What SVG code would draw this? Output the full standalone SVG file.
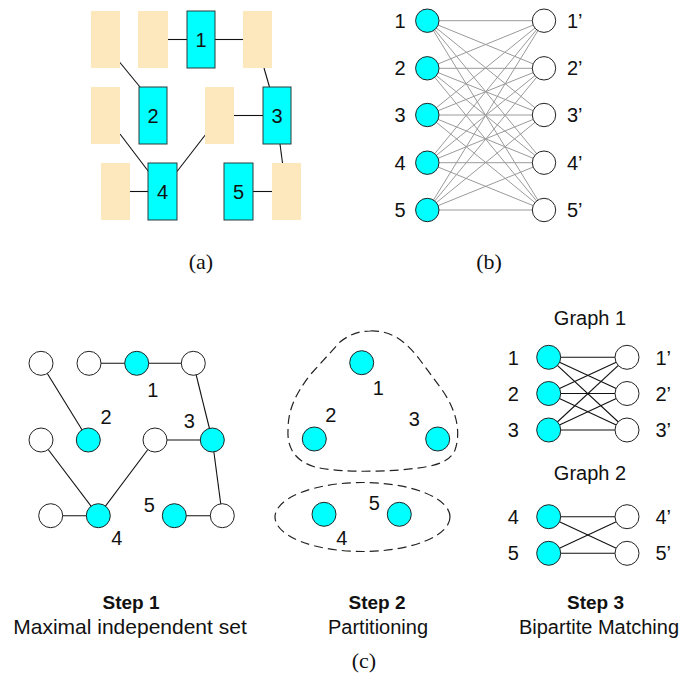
<svg xmlns="http://www.w3.org/2000/svg" width="694" height="687" viewBox="0 0 694 687">
<style>
.bg{fill:#FDE8BE}
.cy{fill:#00FFFF;stroke:#2a3a3a;stroke-width:1}
.cc{fill:#00FFFF;stroke:#222;stroke-width:1}
.wc{fill:#FFFFFF;stroke:#222;stroke-width:1}
.ed{stroke:#111;stroke-width:1.1;fill:none}
.ge{stroke:#9a9a9a;stroke-width:1;fill:none}
.lb{font-family:"Liberation Sans",Arial,sans-serif;font-size:20px;fill:#111}
.lg{font-family:"Liberation Sans",Arial,sans-serif;font-size:20px;fill:#111}
.st{font-family:"Liberation Sans",Arial,sans-serif;font-size:19px;font-weight:bold;fill:#111;text-anchor:middle}
.cap{font-family:"Liberation Sans",Arial,sans-serif;font-size:20px;fill:#111;text-anchor:middle}
.sub{font-family:"Liberation Serif","Times New Roman",serif;font-size:22px;fill:#111;text-anchor:middle}
.dash{fill:none;stroke:#222;stroke-width:1.2;stroke-dasharray:9,5}
.m{text-anchor:middle}
</style>

<!-- (a) connectors -->
<g id="a-connectors" class="ed">
<line x1="168" y1="39.5" x2="187" y2="39.5"/>
<line x1="215" y1="39.5" x2="243" y2="39.5"/>
<line x1="119.5" y1="62" x2="140" y2="87"/>
<line x1="264" y1="68" x2="269.5" y2="87"/>
<line x1="234" y1="115.5" x2="263" y2="115.5"/>
<line x1="280" y1="144" x2="282.5" y2="163"/>
<line x1="120" y1="134" x2="148.5" y2="171.5"/>
<line x1="206" y1="134" x2="177" y2="171.5"/>
<line x1="130" y1="191.5" x2="148" y2="191.5"/>
<line x1="253" y1="191.5" x2="272" y2="191.5"/>
</g>
<!-- (a) nodes -->
<g id="a-r1"><rect class="bg" x="91" y="11" width="29" height="57"/></g>
<g id="a-r2"><rect class="bg" x="138" y="11" width="30" height="57"/></g>
<g id="a-n1"><rect class="cy" x="187" y="11" width="28" height="57"/><text class="lb m" x="201" y="46.5">1</text></g>
<g id="a-r3"><rect class="bg" x="243" y="11" width="29" height="57"/></g>
<g id="a-r4"><rect class="bg" x="91" y="87" width="29" height="57"/></g>
<g id="a-n2"><rect class="cy" x="139" y="87" width="28" height="57"/><text class="lb m" x="153" y="122.5">2</text></g>
<g id="a-r5"><rect class="bg" x="205" y="87" width="29" height="57"/></g>
<g id="a-n3"><rect class="cy" x="263" y="87" width="28" height="57"/><text class="lb m" x="277" y="122.5">3</text></g>
<g id="a-r6"><rect class="bg" x="101" y="163" width="29" height="57"/></g>
<g id="a-n4"><rect class="cy" x="148" y="163" width="29" height="57"/><text class="lb m" x="162.5" y="198.5">4</text></g>
<g id="a-n5"><rect class="cy" x="224" y="163" width="29" height="57"/><text class="lb m" x="238.5" y="198.5">5</text></g>
<g id="a-r7"><rect class="bg" x="272" y="163" width="29" height="57"/></g>
<text class="sub" x="201" y="269">(a)</text>

<!-- (b) connectors: complete bipartite -->
<g id="b-connectors" class="ge">
<line x1="427.3" y1="20.7" x2="544" y2="20.7"/><line x1="427.3" y1="20.7" x2="544" y2="68.3"/><line x1="427.3" y1="20.7" x2="544" y2="115"/><line x1="427.3" y1="20.7" x2="544" y2="162.7"/><line x1="427.3" y1="20.7" x2="544" y2="210"/>
<line x1="427.3" y1="68.3" x2="544" y2="20.7"/><line x1="427.3" y1="68.3" x2="544" y2="68.3"/><line x1="427.3" y1="68.3" x2="544" y2="115"/><line x1="427.3" y1="68.3" x2="544" y2="162.7"/><line x1="427.3" y1="68.3" x2="544" y2="210"/>
<line x1="427.3" y1="115" x2="544" y2="20.7"/><line x1="427.3" y1="115" x2="544" y2="68.3"/><line x1="427.3" y1="115" x2="544" y2="115"/><line x1="427.3" y1="115" x2="544" y2="162.7"/><line x1="427.3" y1="115" x2="544" y2="210"/>
<line x1="427.3" y1="162.7" x2="544" y2="20.7"/><line x1="427.3" y1="162.7" x2="544" y2="68.3"/><line x1="427.3" y1="162.7" x2="544" y2="115"/><line x1="427.3" y1="162.7" x2="544" y2="162.7"/><line x1="427.3" y1="162.7" x2="544" y2="210"/>
<line x1="427.3" y1="210" x2="544" y2="20.7"/><line x1="427.3" y1="210" x2="544" y2="68.3"/><line x1="427.3" y1="210" x2="544" y2="115"/><line x1="427.3" y1="210" x2="544" y2="162.7"/><line x1="427.3" y1="210" x2="544" y2="210"/>
</g>
<g id="b-l1"><circle class="cc" cx="427.3" cy="20.7" r="11.7"/><text class="lb m" x="400" y="27.8">1</text></g>
<g id="b-l2"><circle class="cc" cx="427.3" cy="68.3" r="11.7"/><text class="lb m" x="400" y="75.4">2</text></g>
<g id="b-l3"><circle class="cc" cx="427.3" cy="115" r="11.7"/><text class="lb m" x="400" y="122.2">3</text></g>
<g id="b-l4"><circle class="cc" cx="427.3" cy="162.7" r="11.7"/><text class="lb m" x="400" y="169.8">4</text></g>
<g id="b-l5"><circle class="cc" cx="427.3" cy="210" r="11.7"/><text class="lb m" x="400" y="217.2">5</text></g>
<g id="b-r1"><circle class="wc" cx="544" cy="20.7" r="11.7"/><text class="lb" x="567" y="27.8">1’</text></g>
<g id="b-r2"><circle class="wc" cx="544" cy="68.3" r="11.7"/><text class="lb" x="567" y="75.4">2’</text></g>
<g id="b-r3"><circle class="wc" cx="544" cy="115" r="11.7"/><text class="lb" x="567" y="122.2">3’</text></g>
<g id="b-r4"><circle class="wc" cx="544" cy="162.7" r="11.7"/><text class="lb" x="567" y="169.8">4’</text></g>
<g id="b-r5"><circle class="wc" cx="544" cy="210" r="11.7"/><text class="lb" x="567" y="217.2">5’</text></g>
<text class="sub" x="489" y="269">(b)</text>

<!-- (c) Step 1 -->
<g id="s1-connectors" class="ed">
<line x1="89" y1="363.3" x2="193.3" y2="363.3"/>
<line x1="41" y1="363.3" x2="88.3" y2="440"/>
<line x1="193.3" y1="363.3" x2="212.3" y2="440"/>
<line x1="155" y1="440" x2="212.3" y2="440"/>
<line x1="212.3" y1="440" x2="222.3" y2="515.7"/>
<line x1="41" y1="440" x2="98.3" y2="515.7"/>
<line x1="155" y1="440" x2="98.3" y2="515.7"/>
<line x1="50.7" y1="515.7" x2="98.3" y2="515.7"/>
<line x1="174.3" y1="515.7" x2="222.3" y2="515.7"/>
</g>
<g id="s1-w1"><circle class="wc" cx="41" cy="363.3" r="12"/></g>
<g id="s1-w2"><circle class="wc" cx="89" cy="363.3" r="12"/></g>
<g id="s1-n1"><circle class="cc" cx="136.7" cy="363.3" r="12"/><text class="lb m" x="152.7" y="397">1</text></g>
<g id="s1-w3"><circle class="wc" cx="193.3" cy="363.3" r="12"/></g>
<g id="s1-w4"><circle class="wc" cx="41" cy="440" r="12"/></g>
<g id="s1-n2"><circle class="cc" cx="88.3" cy="440" r="12"/><text class="lb m" x="106" y="423.5">2</text></g>
<g id="s1-w5"><circle class="wc" cx="155" cy="440" r="12"/></g>
<g id="s1-n3"><circle class="cc" cx="212.3" cy="440" r="12"/><text class="lb m" x="189.3" y="428">3</text></g>
<g id="s1-w6"><circle class="wc" cx="50.7" cy="515.7" r="12"/></g>
<g id="s1-n4"><circle class="cc" cx="98.3" cy="515.7" r="12"/><text class="lb m" x="116.7" y="545">4</text></g>
<g id="s1-n5"><circle class="cc" cx="174.3" cy="515.7" r="12"/><text class="lb m" x="149.3" y="512">5</text></g>
<g id="s1-w7"><circle class="wc" cx="222.3" cy="515.7" r="12"/></g>

<!-- (c) Step 2 -->
<g id="s2-group1"><path class="dash" d="M 370,331 C 390,330 405,340 420,360 L 440,387 C 455,407 462,430 455,450 C 448,465 430,467 400,470 C 370,472 335,472 315,467 C 295,461 287,448 288,430 C 288,410 295,395 310,375 L 340,342 C 350,334 360,331 370,331 Z"/></g>
<g id="s2-group2"><ellipse class="dash" cx="362.5" cy="517" rx="87.5" ry="34.5"/></g>
<g id="s2-n1"><circle class="cc" cx="361.7" cy="362.7" r="12"/><text class="lb m" x="378.3" y="395">1</text></g>
<g id="s2-n2"><circle class="cc" cx="314.3" cy="439" r="12"/><text class="lb m" x="330.7" y="422">2</text></g>
<g id="s2-n3"><circle class="cc" cx="437.7" cy="439" r="12"/><text class="lb m" x="414.3" y="426">3</text></g>
<g id="s2-n4"><circle class="cc" cx="324" cy="514.3" r="12"/><text class="lb m" x="341.7" y="545">4</text></g>
<g id="s2-n5"><circle class="cc" cx="399.3" cy="514.3" r="12"/><text class="lb m" x="374.3" y="509.5">5</text></g>

<!-- (c) Step 3 -->
<text class="lg m" x="590" y="325">Graph 1</text>
<text class="lg m" x="590" y="480">Graph 2</text>
<g id="s3-connectors" class="ed">
<line x1="548.7" y1="357.3" x2="627" y2="357.3"/><line x1="548.7" y1="357.3" x2="627" y2="393.5"/><line x1="548.7" y1="357.3" x2="627" y2="430"/>
<line x1="548.7" y1="393.5" x2="627" y2="357.3"/><line x1="548.7" y1="393.5" x2="627" y2="393.5"/><line x1="548.7" y1="393.5" x2="627" y2="430"/>
<line x1="548.7" y1="430" x2="627" y2="357.3"/><line x1="548.7" y1="430" x2="627" y2="393.5"/><line x1="548.7" y1="430" x2="627" y2="430"/>
<line x1="548.7" y1="516.7" x2="627" y2="516.7"/><line x1="548.7" y1="516.7" x2="627" y2="553.3"/>
<line x1="548.7" y1="553.3" x2="627" y2="516.7"/><line x1="548.7" y1="553.3" x2="627" y2="553.3"/>
</g>
<g id="s3-l1"><circle class="cc" cx="548.7" cy="357.3" r="12"/><text class="lg m" x="513.3" y="364.5">1</text></g>
<g id="s3-l2"><circle class="cc" cx="548.7" cy="393.5" r="12"/><text class="lg m" x="513.3" y="401">2</text></g>
<g id="s3-l3"><circle class="cc" cx="548.7" cy="430" r="12"/><text class="lg m" x="513.3" y="437">3</text></g>
<g id="s3-r1"><circle class="wc" cx="627" cy="357.3" r="12"/><text class="lg" x="655.5" y="364.5">1’</text></g>
<g id="s3-r2"><circle class="wc" cx="627" cy="393.5" r="12"/><text class="lg" x="655.5" y="401">2’</text></g>
<g id="s3-r3"><circle class="wc" cx="627" cy="430" r="12"/><text class="lg" x="655.5" y="437">3’</text></g>
<g id="s3-l4"><circle class="cc" cx="548.7" cy="516.7" r="12"/><text class="lg m" x="513.3" y="523.5">4</text></g>
<g id="s3-l5"><circle class="cc" cx="548.7" cy="553.3" r="12"/><text class="lg m" x="513.3" y="560">5</text></g>
<g id="s3-r4"><circle class="wc" cx="627" cy="516.7" r="12"/><text class="lg" x="655.5" y="523.5">4’</text></g>
<g id="s3-r5"><circle class="wc" cx="627" cy="553.3" r="12"/><text class="lg" x="655.5" y="560">5’</text></g>

<!-- captions -->
<text class="st" x="131" y="608.5">Step 1</text>
<text class="cap" x="130" y="633.5" style="font-size:21px">Maximal independent set</text>
<text class="st" x="377" y="608.5">Step 2</text>
<text class="cap" x="378" y="633.5">Partitioning</text>
<text class="st" x="595.5" y="608.5">Step 3</text>
<text class="cap" x="599" y="633.5">Bipartite Matching</text>
<text class="sub" x="364" y="668">(c)</text>
</svg>
